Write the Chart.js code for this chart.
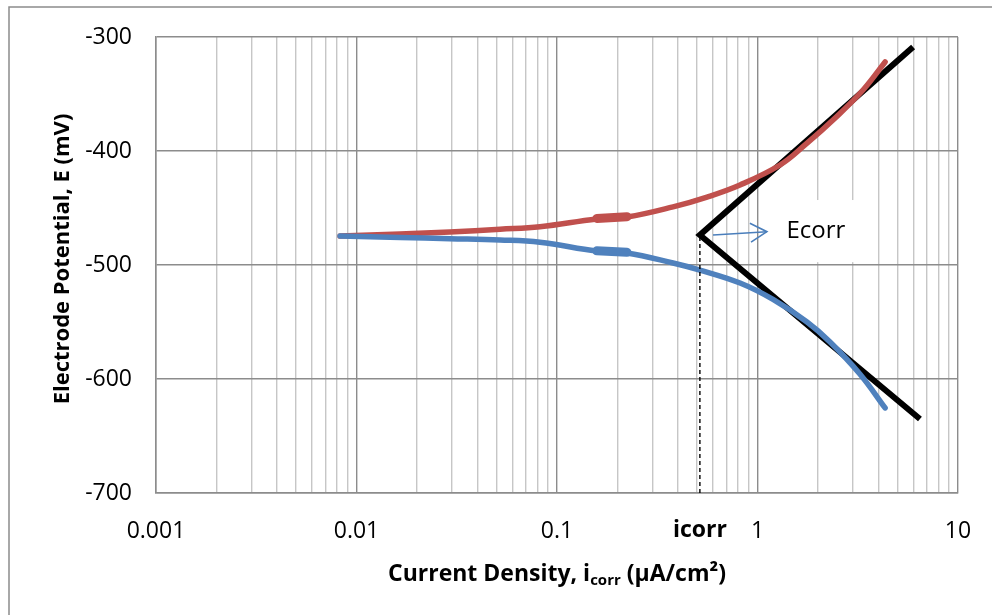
<!DOCTYPE html>
<html>
<head>
<meta charset="utf-8">
<script src="https://cdn.jsdelivr.net/npm/chart.js@4.4.1/dist/chart.umd.min.js"></script>
<style>
  html, body { margin: 0; padding: 0; background: #fff; }
</style>
</head>
<body>
<canvas id="chart" width="992" height="615"></canvas>
<script>
// anodic branch (red), current density in uA/cm2 and potential in mV
const redX = [0.00828, 0.0165, 0.0292, 0.052, 0.0822, 0.158, 0.2234, 0.379, 0.56, 0.818, 1.295, 1.726, 2.44, 3.36, 4.33];
const redY = [-474.6, -472.8, -471.0, -468.6, -466.5, -459.6, -457.9, -449.0, -440.4, -429.8, -412.3, -394.7, -371.0, -346.5, -321.9];

// cathodic branch (blue)
const blueX = [0.00828, 0.0165, 0.0292, 0.052, 0.0822, 0.158, 0.2234, 0.379, 0.516, 0.818, 1.195, 1.766, 2.30, 3.24, 4.33];
const blueY = [-474.6, -475.9, -476.9, -478.0, -480.0, -487.8, -489.4, -498.2, -504.4, -515.8, -530.2, -550.0, -567.5, -595.6, -625.4];

// short thicker bits on both curves
const redBulgeX = [0.158, 0.2234];
const redBulgeY = [-459.2, -457.6];
const blueBulgeX = [0.158, 0.2234];
const blueBulgeY = [-487.6, -488.9];

// tafel lines: upper end, crossing point, lower end
const tafelX = [5.97, 0.516, 6.46];
const tafelY = [-308.8, -473.7, -635.1];

const icorr = 0.516;
const ecorr = -473.7;

// arrow pointing at the Ecorr note
const arrowX = [0.6, 1.114];
const arrowY = [-473.7, -470.8];

// note box corners (data units)
const noteX = [1.07, 3.98];
const noteY = [-443.0, -497.5];

const xTickValues = [];
[0.001, 0.01, 0.1, 1].forEach(d => {
  for (let k = 1; k <= 9; k++) xTickValues.push(+(d * k).toPrecision(3));
});
xTickValues.push(10);
const xMajor = [0.001, 0.01, 0.1, 1, 10];
const xTickLabels = ['0.001', '0.01', '0.1', '1', '10'];

const FONT = '"Open Sans", "Noto Sans", sans-serif';

function pts(xs, ys) {
  return xs.map((x, i) => ({ x: x, y: ys[i] }));
}
function isMajor(v) {
  return xMajor.some(m => Math.abs(m - v) < m * 1e-6);
}

const extras = {
  id: 'extras',
  beforeDraw(chart) {
    const c = chart.ctx;
    c.save();
    c.strokeStyle = '#8c8c8c';
    c.lineWidth = 1.5;
    c.beginPath();
    c.moveTo(9, 615);
    c.lineTo(9, 7);
    c.lineTo(992, 7);
    c.stroke();
    c.restore();
  },
  beforeDatasetsDraw(chart) {
    const c = chart.ctx, xs = chart.scales.x, ys = chart.scales.y;
    const x0 = xs.getPixelForValue(noteX[0]), x1 = xs.getPixelForValue(noteX[1]);
    const y0 = ys.getPixelForValue(noteY[0]), y1 = ys.getPixelForValue(noteY[1]);
    c.save();
    c.fillStyle = '#fff';
    c.fillRect(x0, y0, x1 - x0, y1 - y0);
    c.fillStyle = '#000';
    c.font = '24px ' + FONT;
    c.textAlign = 'left';
    c.textBaseline = 'middle';
    c.fillText('Ecorr', x0 + 23, (y0 + y1) / 2);
    c.restore();
  },
  afterDatasetsDraw(chart) {
    const c = chart.ctx, xs = chart.scales.x, ys = chart.scales.y, a = chart.chartArea;
    // arrow head
    const ax = xs.getPixelForValue(arrowX[0]), ay = ys.getPixelForValue(arrowY[0]);
    const bx = xs.getPixelForValue(arrowX[1]), by = ys.getPixelForValue(arrowY[1]);
    const ang = Math.atan2(by - ay, bx - ax);
    c.save();
    c.strokeStyle = '#4a7ebb';
    c.lineWidth = 1.6;
    c.beginPath();
    c.moveTo(bx - 19 * Math.cos(ang - 0.52), by - 19 * Math.sin(ang - 0.52));
    c.lineTo(bx, by);
    c.lineTo(bx - 19 * Math.cos(ang + 0.52), by - 19 * Math.sin(ang + 0.52));
    c.stroke();

    // icorr label among the x ticks
    c.fillStyle = '#000';
    c.font = 'bold 23px ' + FONT;
    c.textAlign = 'center';
    c.textBaseline = 'middle';
    c.fillText('icorr', xs.getPixelForValue(icorr), 530);

    // x axis title with subscript
    const big = 'bold 23px ' + FONT, small = 'bold 15px ' + FONT;
    const p1 = 'Current Density, i', p2 = 'corr', p3 = ' (\u00b5A/cm\u00b2)';
    c.font = big; const w1 = c.measureText(p1).width, w3 = c.measureText(p3).width;
    c.font = small; const w2 = c.measureText(p2).width;
    let tx = (a.left + a.right) / 2 - (w1 + w2 + w3) / 2;
    const base = 581;
    c.textAlign = 'left';
    c.textBaseline = 'alphabetic';
    c.font = big; c.fillText(p1, tx, base); tx += w1;
    c.font = small; c.fillText(p2, tx, base + 4); tx += w2;
    c.font = big; c.fillText(p3, tx, base);

    // y axis title
    c.translate(63, 259);
    c.rotate(-Math.PI / 2);
    c.textAlign = 'center';
    c.textBaseline = 'middle';
    c.font = 'bold 22px ' + FONT;
    c.fillText('Electrode Potential, E (mV)', 0, 0);
    c.restore();
  }
};

const line = (data, color, width, extra) => Object.assign({
  data: data,
  showLine: true,
  borderColor: color,
  backgroundColor: color,
  borderWidth: width,
  pointRadius: 0,
  borderCapStyle: 'round',
  borderJoinStyle: 'round'
}, extra || {});

new Chart(document.getElementById('chart'), {
  type: 'scatter',
  data: {
    datasets: [
      line(pts([icorr, icorr], [-700, ecorr]), '#000', 1.4, { borderDash: [4, 3], borderCapStyle: 'butt' }),
      line(pts(blueX, blueY), '#4f81bd', 5.5, { tension: 0.4 }),
      line(pts(blueBulgeX, blueBulgeY), '#4f81bd', 9),
      line(pts(redX, redY), '#c0504d', 5.5, { tension: 0.4 }),
      line(pts(redBulgeX, redBulgeY), '#c0504d', 9),
      line(pts(tafelX, tafelY), '#000', 6, { borderCapStyle: 'butt', borderJoinStyle: 'miter' }),
      line(pts(arrowX, arrowY), '#4a7ebb', 1.6, { borderCapStyle: 'butt' })
    ]
  },
  options: {
    responsive: false,
    animation: false,
    layout: { padding: { top: 37, right: 34, left: 0, bottom: 0 } },
    plugins: { legend: { display: false }, tooltip: { enabled: false } },
    scales: {
      x: {
        type: 'logarithmic',
        min: 0.001,
        max: 10,
        afterBuildTicks: s => { s.ticks = xTickValues.map(v => ({ value: v })); },
        afterFit: s => { s.height = 122; s.paddingLeft = 0; s.paddingRight = 0; },
        ticks: {
          autoSkip: false,
          maxRotation: 0,
          padding: 25,
          color: '#000',
          font: { family: FONT, size: 23 },
          callback: v => {
            const i = xMajor.findIndex(m => Math.abs(m - v) < m * 1e-6);
            return i >= 0 ? xTickLabels[i] : '';
          }
        },
        grid: {
          drawTicks: false,
          color: ctx => (ctx.tick && isMajor(ctx.tick.value)) ? '#8c8c8c' : '#c6c6c6',
          lineWidth: 1.4
        },
        border: { color: '#8c8c8c', width: 1.5 }
      },
      y: {
        min: -700,
        max: -300,
        afterFit: s => { s.width = 156; s.paddingTop = 0; s.paddingBottom = 0; },
        ticks: {
          stepSize: 100,
          padding: 24,
          color: '#000',
          font: { family: FONT, size: 23 },
          callback: v => String(v)
        },
        grid: { drawTicks: false, color: '#8c8c8c', lineWidth: 1.4 },
        border: { color: '#8c8c8c', width: 1.5 }
      }
    }
  },
  plugins: [extras]
});
</script>
</body>
</html>
